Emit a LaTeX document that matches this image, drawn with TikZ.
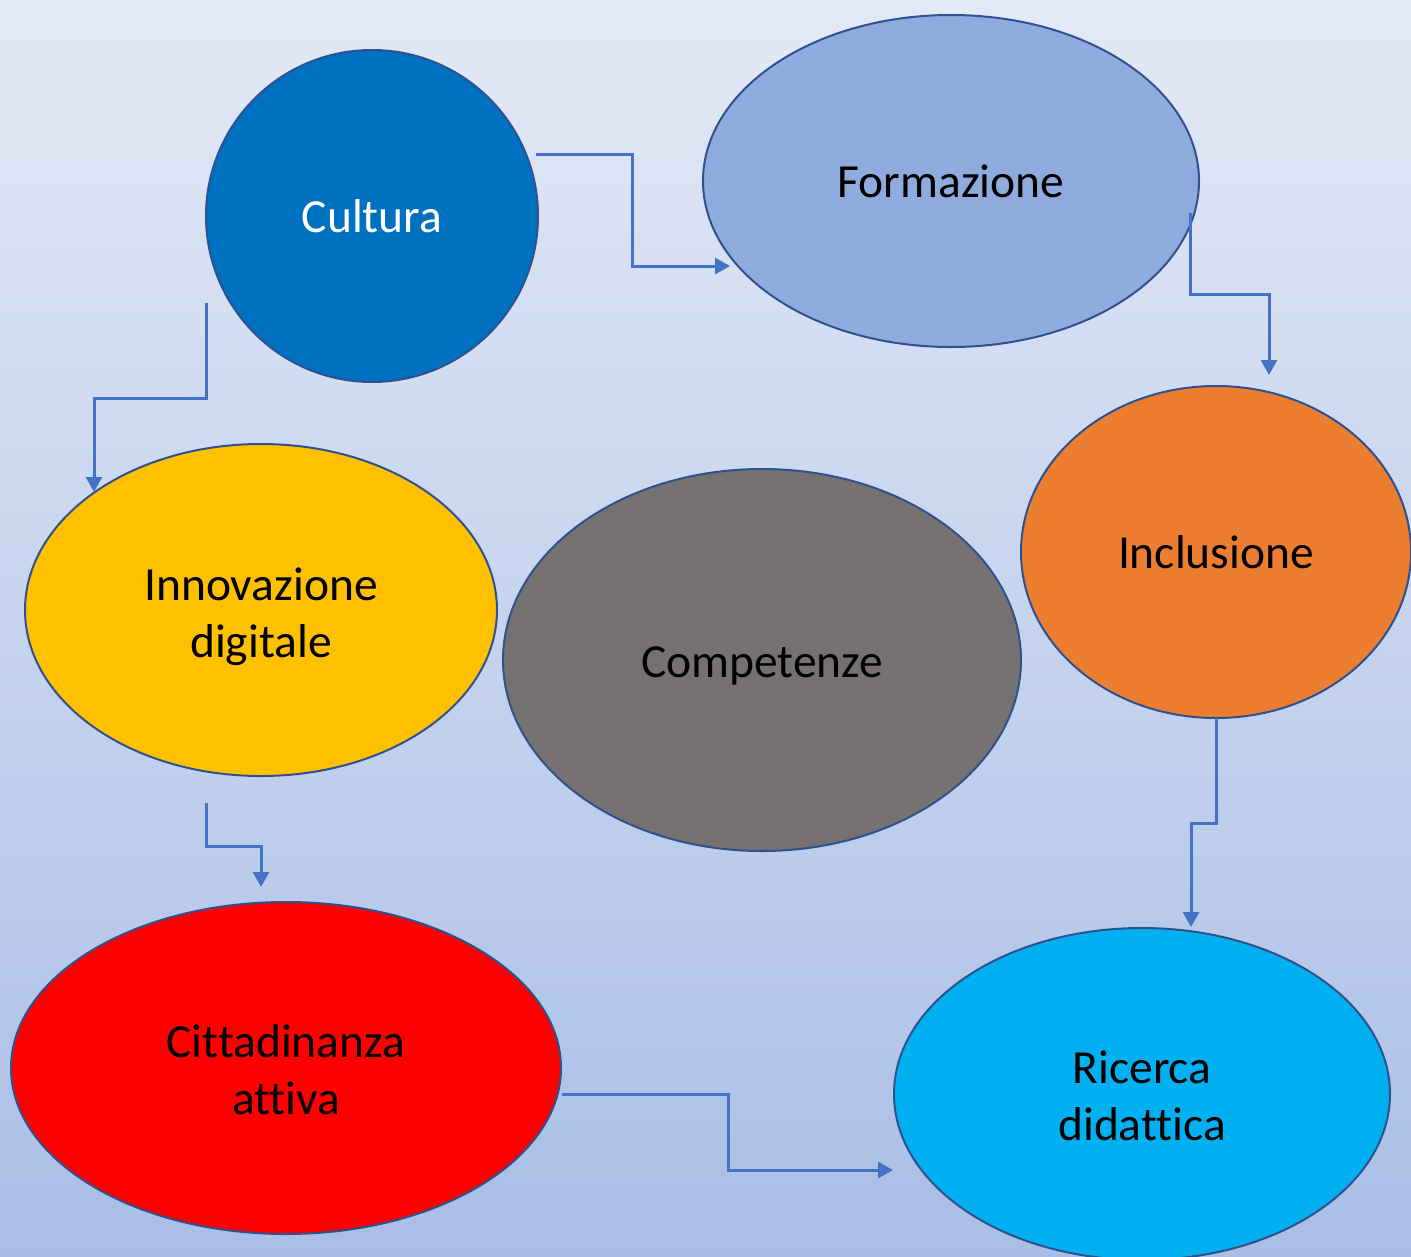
\documentclass[tikz,border=0pt]{standalone}
\usepackage{fontspec}
\setmainfont[Ligatures=NoCommon]{Carlito}
\usetikzlibrary{shapes.geometric,arrows.meta}
\definecolor{bgtop}{HTML}{E3E9F6}
\definecolor{bgbot}{HTML}{A9BEE6}
\definecolor{edge}{HTML}{2F528F}
\definecolor{conncol}{HTML}{4472C4}
\definecolor{ccult}{HTML}{0070C0}
\definecolor{cform}{HTML}{8FAADC}
\definecolor{cincl}{HTML}{ED7D31}
\definecolor{cinno}{HTML}{FFC000}
\definecolor{ccomp}{HTML}{767171}
\definecolor{ccitt}{HTML}{FF0000}
\definecolor{cric}{HTML}{00B0F0}
\newcommand{\lowtxt}[2]{\raisebox{-#1}[\height][\depth]{\begin{tabular}{@{}c@{}}#2\end{tabular}}}
\tikzset{
  blob/.style={ellipse, draw=edge, line width=2pt, inner sep=0pt, align=center,
    font=\fontsize{47.5}{57}\selectfont, text=black},
  conn/.style={draw=conncol, line width=3pt, -{Triangle[length=15pt,width=16pt]}}
}
\begin{document}
\begin{tikzpicture}[x=1pt,y=-1pt]
\useasboundingbox (0,0) rectangle (1411,1256);
\clip (0,0) rectangle (1411,1256);
\shade[top color=bgtop, bottom color=bgbot] (0,0) rectangle (1411,1256);

\node[blob, fill=ccult, text=white, minimum width=332pt, minimum height=332pt] (cultura) at (372,216) {Cultura};
\node[blob, fill=cform, minimum width=496pt, minimum height=332pt] (formazione) at (951,181) {Formazione};
\node[blob, fill=cincl, minimum width=390pt, minimum height=332pt] (inclusione) at (1216,552) {Inclusione};
\node[blob, fill=cinno, minimum width=472pt, minimum height=332pt] (innovazione) at (261,610) {\lowtxt{8pt}{Innovazione\\digitale}};
\node[blob, fill=ccomp, minimum width=518pt, minimum height=382pt] (competenze) at (762,660) {\lowtxt{6pt}{Competenze}};
\node[blob, fill=ccitt, minimum width=550pt, minimum height=332pt] (cittadinanza) at (286,1068) {\lowtxt{7pt}{Cittadinanza\\attiva}};
\node[blob, fill=cric, minimum width=496pt, minimum height=332pt] (ricerca) at (1142,1094) {\lowtxt{7pt}{Ricerca\\didattica}};

\coordinate (s1) at (536,154); \coordinate (e1) at (730,266);
\coordinate (s2) at (1190,213); \coordinate (e2) at (1269,375);
\coordinate (s3) at (206,303); \coordinate (e3) at (94,492);
\coordinate (s4) at (206,803); \coordinate (e4) at (261,887);
\coordinate (s5) at (1216,718); \coordinate (e5) at (1191,927);
\coordinate (s6) at (562,1094); \coordinate (e6) at (893,1170);

\draw[conn] (s1) -| (632,210) |- (e1);
\draw[conn] (s2) |- (1230,294) -| (e2);
\draw[conn] (s3) |- (150,398) -| (e3);
\draw[conn] (s4) |- (233,846) -| (e4);
\draw[conn] (s5) |- (1203,823) -| (e5);
\draw[conn] (s6) -| (728,1130) |- (e6);
\end{tikzpicture}
\end{document}
